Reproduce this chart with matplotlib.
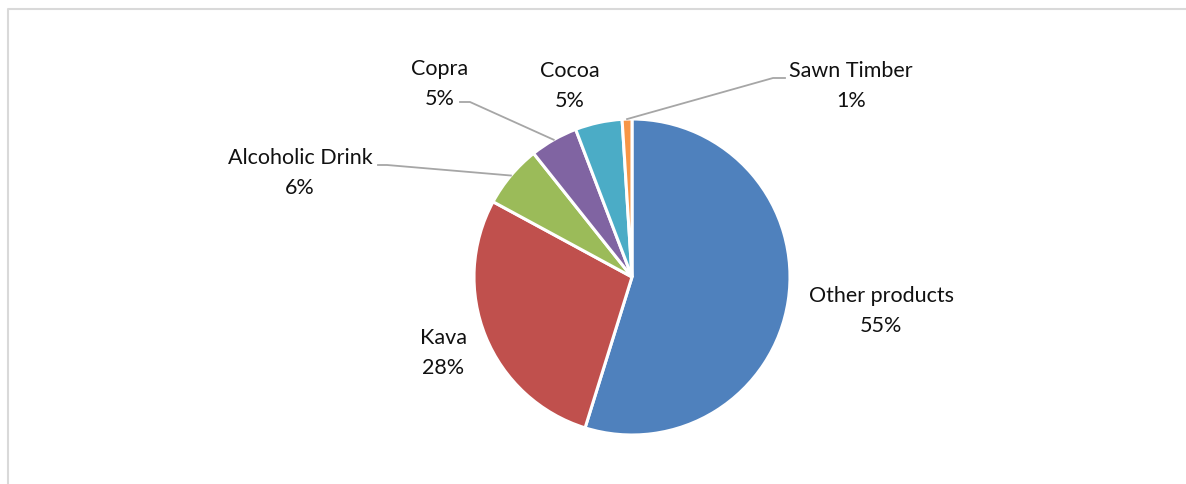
import numpy as np
import matplotlib.pyplot as plt
from matplotlib.lines import Line2D

# export shares (%), clockwise from the top
products = ["Other products", "Kava", "Alcoholic Drink", "Copra", "Cocoa", "Sawn Timber"]
shares = [54.8, 28.1, 6.4, 4.9, 4.8, 1.0]
colors = ["#4F81BD", "#C0504D", "#9BBB59", "#8064A2", "#4BACC6", "#F79646"]

W, H = 1186, 485
fig = plt.figure(figsize=(W / 100, H / 100), dpi=100)
ax = fig.add_axes([0, 0, 1, 1])
plt.rcParams['font.family'] = ['Lato', 'DejaVu Sans']

# chart frame (only top and left edges show)
fx, fy = 8 / W, (H - 9.5) / H
fig.add_artist(Line2D([fx, fx, 1.0], [0, fy, fy], transform=fig.transFigure,
                      color="#D9D9D9", linewidth=1.5))

cx, cy, r = 632, H - 278, 158
wedges, _ = ax.pie(shares, colors=colors, startangle=90, counterclock=False,
                   center=(cx, cy), radius=r,
                   wedgeprops=dict(edgecolor="white", linewidth=2.2))
ax.set_xlim(0, W)
ax.set_ylim(0, H)
ax.set_aspect("equal")
ax.axis("off")

# label layout: text centre (px from top-left), leader elbow (or None)
layout = {
    "Other products": ((881, 311), None),
    "Kava": ((443, 353), None),
    "Alcoholic Drink": ((300, 173), [(378, 166), (387, 166)]),
    "Copra": ((440, 84), [(460, 103), (470, 103)]),
    "Cocoa": ((570, 86), None),
    "Sawn Timber": ((851, 86), [(785, 79), (773, 79)]),
}

for w, name, val in zip(wedges, products, shares):
    (tx, ty), elbow = layout[name]
    ax.text(tx, H - ty, f"{name}\n{val:.0f}%", ha="center", va="center",
            fontsize=15.5, linespacing=1.65, color="#111111")
    if elbow:
        mid = np.deg2rad((w.theta1 + w.theta2) / 2)
        px, py = cx + r * np.cos(mid), cy + r * np.sin(mid)
        xs = [elbow[0][0], elbow[1][0], px]
        ys = [H - elbow[0][1], H - elbow[1][1], py]
        ax.plot(xs, ys, color="#A6A6A6", linewidth=1.3)

fig.savefig("out.png", dpi=100)
